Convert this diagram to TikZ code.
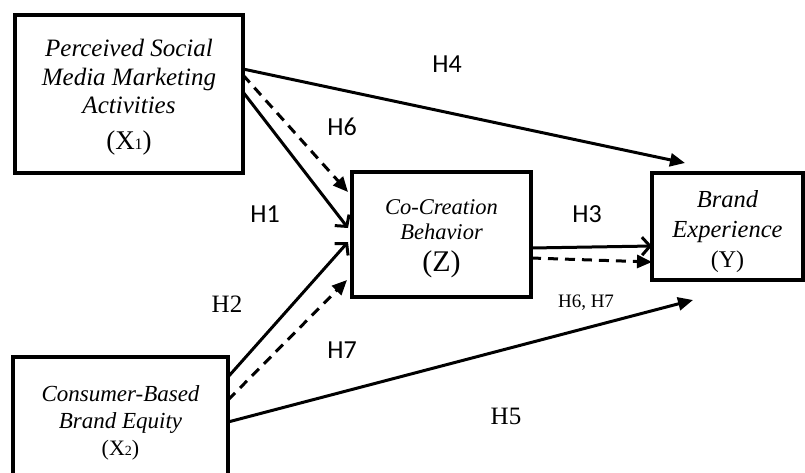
\documentclass[tikz,border=0pt]{standalone}
\usepackage{fontspec}
\setmainfont{Liberation Serif}
\newfontfamily\calibri{Carlito}
\usetikzlibrary{arrows.meta,calc}
\newcommand\smallnum[2]{{\fontsize{#1}{#1}\selectfont #2}}
\tikzset{
  box/.style={draw, line width=3.2pt, inner sep=0pt, outer sep=0pt},
  boxtext/.style={inner sep=0pt, align=center},
  conn/.style={line width=3pt},
  openhead/.style={conn, -{Straight Barb[length=8pt,width=18pt,line width=3pt]}},
  trihead/.style={conn, -{Triangle[length=15pt,width=13pt]}},
  dashline/.style={dash pattern=on 10pt off 7pt},
  sanslab/.style={anchor=base, inner sep=0pt, font=\calibri\fontsize{26}{26}\selectfont},
  seriflab/.style={anchor=base, inner sep=0pt, font=\fontsize{25}{25}\selectfont},
}
\begin{document}
\begin{tikzpicture}[x=1pt,y=-1pt]
\clip (0,0) rectangle (805,472);
\fill[white] (0,0) rectangle (805,472);

% boxes
\node[box, minimum width=228pt, minimum height=158pt] (x1) at (129,94) {};
\node[box, minimum width=179pt, minimum height=125pt] (z) at (441.5,234.5) {};
\node[box, minimum width=151pt, minimum height=107pt] (y) at (727.5,226.5) {};
\node[box, minimum width=215pt, minimum height=128pt] (x2) at (120.5,421) {};

% box texts
\node[boxtext, font=\itshape\fontsize{25}{28.5}\selectfont] (x1t) at ([yshift=-3pt]x1.center)
  {Perceived Social\\ Media Marketing\\ Activities\\[7pt]
   {\upshape\fontsize{27}{27}\selectfont (X\smallnum{16}{1})}};
\node[boxtext, font=\itshape\fontsize{22.5}{25}\selectfont] (zt) at ([yshift=-4pt]z.center)
  {Co-Creation\\ Behavior\\[7pt]
   {\upshape\fontsize{30}{30}\selectfont (Z)}};
\node[boxtext, font=\itshape\fontsize{24.5}{30}\selectfont] (yt) at ([yshift=-5pt]y.center)
  {Brand\\ Experience\\
   {\upshape\fontsize{24}{24}\selectfont (Y)}};
\node[boxtext, font=\itshape\fontsize{23}{27}\selectfont] (x2t) at ([yshift=-2pt]x2.center)
  {Consumer-Based\\ Brand Equity\\
   {\upshape\fontsize{22}{22}\selectfont (X\smallnum{14}{2})}};

% connectors from X1
\draw[trihead] ([yshift=-54pt]x1.north east) -- ([shift={(33pt,10pt)}]y.north west);
\draw[trihead, dashline] ([yshift=-60pt]x1.north east) -- ([shift={(-4pt,-20pt)}]z.north west);
\draw[openhead] ([yshift=-77pt]x1.north east) -- ([shift={(-4pt,-56pt)}]z.north west);

% connectors from X2
\draw[openhead] ([yshift=-20pt]x2.north east) -- ([shift={(-4pt,-70pt)}]z.north west);
\draw[trihead, dashline] ([yshift=-43pt]x2.north east) -- ([shift={(-5pt,-108pt)}]z.north west);
\draw[trihead] ([yshift=-65pt]x2.north east) -- ([shift={(41pt,-20pt)}]y.south west);

% Z to Y
\draw[openhead] ([yshift=-76pt]z.north east) -- ([yshift=-73pt]y.north west);
\draw[trihead, dashline] ([yshift=-86pt]z.north east) -- ([yshift=-89pt]y.north west);

% labels
\node[sanslab] (h4) at (447,72) {H4};
\node[sanslab] (h6) at (342,135) {H6};
\node[sanslab] (h1) at (265,222) {H1};
\node[sanslab] (h3) at (587,222) {H3};
\node[sanslab] (h7) at (342,358) {H7};
\node[seriflab] (h2) at (227,312) {H2};
\node[seriflab] (h5) at (506,424) {H5};
\node[seriflab, font=\fontsize{19}{19}\selectfont] (h67) at (586,307) {H6, H7};
\end{tikzpicture}
\end{document}
